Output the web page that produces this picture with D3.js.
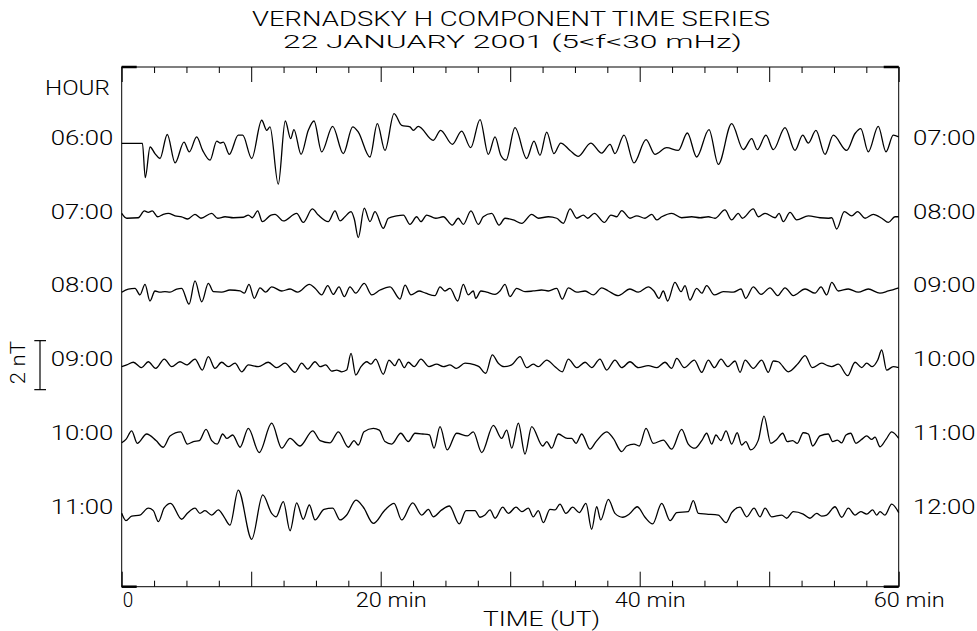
<!DOCTYPE html>
<html>
<head>
<meta charset="utf-8">
<script src="https://cdn.jsdelivr.net/npm/d3@7"></script>
<style>
body { margin: 0; background: #fff; }
text { font-family: Roboto, "DejaVu Sans", sans-serif; font-weight: 300; fill: #000; }
</style>
</head>
<body>
<script>
// hour labels, left and right of each trace
var hoursLeft = ["06:00", "07:00", "08:00", "09:00", "10:00", "11:00"]
var hoursRight = ["07:00", "08:00", "09:00", "10:00", "11:00", "12:00"]

// time axis (minutes)
var majorTicks = [0, 10, 20, 30, 40, 50, 60]
var minorTicks = [2.5, 5, 7.5, 12.5, 15, 17.5, 22.5, 25, 27.5, 32.5, 35, 37.5, 42.5, 45, 47.5, 52.5, 55, 57.5]
var tickLabels = [0, 20, 40, 60]

// filtered H component, [minute, nT] (extrema)
var h06 = [[0,0],[1.6,0],[1.82,-1.40],[2.19,-0.15],[2.57,-0.42],[2.96,-0.62],[3.52,0.36],[4.12,-0.80],[4.81,0.05],[5.22,-0.35],[5.79,0.26],[6.25,-0.29],[6.82,-0.69],[7.34,0.09],[7.59,0.01],[7.85,0.05],[8.31,-0.45],[9.0,0.33],[9.34,0.33],[10.04,-0.62],[10.81,0.94],[11.2,0.53],[11.45,0.67],[12.09,-1.67],[12.63,0.91],[13.05,0.19],[13.3,0.56],[13.85,-0.45],[14.41,0.53],[14.85,0.91],[15.44,-0.35],[16.29,0.69],[17.11,-0.42],[17.84,0.67],[18.27,0.46],[19.17,-0.56],[19.74,0.80],[20.33,-0.29],[21.03,1.21],[21.62,0.73],[22.26,0.67],[22.52,0.53],[22.9,0.69],[24.06,0.12],[24.63,0.53],[25.53,-0.04],[26.25,0.50],[26.95,-0.18],[27.67,0.97],[28.31,-0.45],[28.83,0.26],[29.27,-0.49],[29.68,-0.69],[30.37,0.64],[31.27,-0.62],[31.84,0.09],[32.3,-0.49],[32.82,0.46],[33.38,-0.42],[33.9,0.01],[34.62,-0.29],[35.26,-0.53],[36.22,0.01],[37.07,-0.40],[37.71,-0.04],[38.09,-0.42],[38.79,0.33],[39.56,-0.80],[40.49,0.15],[41.18,-0.45],[42.08,-0.18],[42.98,-0.29],[43.68,0.42],[44.4,-0.56],[45.35,0.56],[46.07,-0.86],[47.1,0.80],[48.0,-0.26],[48.65,0.19],[49.08,-0.26],[49.75,0.33],[50.32,-0.26],[51.22,0.64],[51.99,-0.29],[52.59,0.33],[53.02,0.01],[53.61,0.53],[54.31,-0.45],[54.95,0.33],[55.98,-0.29],[56.63,0.40],[57.07,0.60],[57.65,-0.35],[58.42,0.69],[59.02,-0.35],[59.58,0.33],[60,0.26]]

var h07 = [[0,0.18],[0.39,-0.02],[1.28,0.0],[1.75,0.28],[2.05,0.22],[2.36,0.28],[2.78,0.04],[3.21,0.14],[3.6,0.18],[4.12,0.08],[4.63,0.04],[5.1,-0.05],[5.66,0.14],[6.12,-0.02],[6.95,0.18],[7.41,-0.02],[7.98,0.04],[8.62,0.0],[9.39,0.02],[9.78,0.11],[10.09,0.0],[10.5,0.28],[10.86,-0.16],[11.53,0.11],[11.84,0.14],[12.48,-0.13],[13.51,0.18],[14.02,-0.19],[14.72,0.36],[15.18,0.11],[15.95,-0.16],[16.47,0.28],[16.86,-0.13],[17.24,0.04],[17.71,0.25],[17.96,-0.05],[18.27,-0.81],[18.73,0.39],[19.17,-0.16],[19.56,0.25],[20.2,-0.43],[20.59,-0.02],[21.23,0.08],[21.75,0.11],[22.26,-0.27],[22.78,0.04],[23.11,-0.16],[23.55,0.11],[24.25,-0.02],[24.83,0.04],[25.53,-0.30],[25.99,-0.02],[26.38,-0.27],[26.97,0.28],[27.54,-0.27],[27.92,0.04],[28.57,0.18],[29.14,-0.30],[29.6,-0.02],[30.24,-0.09],[30.89,-0.23],[31.66,0.14],[32.17,-0.02],[32.94,0.04],[33.59,-0.02],[34.1,-0.23],[34.62,0.36],[35.14,-0.02],[35.65,0.11],[35.98,-0.02],[36.5,0.18],[37.27,-0.19],[37.78,0.11],[38.22,0.04],[38.61,0.29],[39.25,-0.02],[39.77,0.08],[40.41,-0.02],[40.93,0.14],[41.31,-0.09],[41.7,0.04],[42.47,0.18],[43.24,0.0],[44.02,0.04],[44.66,0.0],[45.3,0.04],[45.81,-0.02],[46.58,0.32],[47.1,-0.09],[47.61,0.18],[47.92,-0.02],[48.77,0.36],[49.16,0.04],[49.68,0.18],[50.45,0.0],[50.76,0.18],[51.09,-0.16],[51.61,0.22],[52.12,-0.09],[53.02,0.08],[53.92,0.0],[54.56,-0.02],[54.83,0.0],[55.21,-0.46],[55.8,0.25],[56.37,0.08],[56.83,0.25],[57.4,-0.02],[58.04,0.14],[58.69,-0.02],[59.2,-0.19],[59.71,0.04],[60,0.04]]

var h08 = [[0,0.0],[0.51,0.13],[1.03,0.16],[1.41,-0.11],[1.8,0.32],[2.18,-0.36],[2.57,0.05],[2.96,0.0],[3.34,0.02],[3.73,0.0],[4.25,0.13],[4.63,0.16],[5.2,-0.49],[5.66,0.46],[6.18,-0.39],[6.69,0.36],[7.08,0.02],[7.72,0.0],[8.36,0.09],[9.14,0.05],[9.47,-0.04],[9.83,0.32],[10.24,-0.25],[10.68,0.18],[11.12,0.0],[11.58,0.22],[12.36,0.05],[13.0,0.13],[13.59,0.0],[14.49,0.32],[14.93,0.16],[15.44,-0.11],[15.91,0.27],[16.34,-0.09],[16.78,0.22],[17.19,-0.18],[17.63,0.22],[18.07,-0.04],[18.73,0.36],[19.31,-0.11],[19.95,0.09],[20.72,0.22],[21.49,-0.28],[21.88,0.29],[22.34,-0.11],[22.96,0.05],[23.47,-0.04],[24.19,-0.14],[24.58,0.22],[24.96,0.05],[25.35,0.16],[25.95,-0.36],[26.38,0.32],[26.76,-0.11],[27.15,0.05],[27.34,-0.25],[27.74,0.05],[28.18,0.0],[28.83,-0.09],[29.21,0.05],[29.6,0.32],[29.98,-0.18],[30.5,0.16],[31.14,0.02],[31.78,0.05],[32.43,0.09],[32.94,0.05],[33.59,0.16],[34.02,-0.28],[34.49,0.18],[35.14,0.0],[35.78,0.05],[36.42,-0.11],[37.07,0.18],[37.58,0.05],[38.35,-0.14],[39.25,0.13],[39.89,0.0],[40.66,0.22],[41.1,0.05],[41.49,-0.25],[41.82,0.05],[42.16,-0.36],[42.72,0.40],[43.19,0.02],[43.5,0.27],[43.88,-0.32],[44.4,0.16],[44.79,-0.04],[45.17,0.27],[45.76,-0.11],[46.45,0.02],[47.23,0.0],[47.82,0.13],[48.19,-0.25],[48.77,0.22],[49.37,-0.09],[50.06,0.18],[50.66,-0.14],[51.22,0.18],[51.86,-0.14],[52.77,0.13],[53.54,-0.04],[54.0,0.22],[54.44,-0.11],[54.83,0.40],[55.34,0.05],[56.11,0.13],[56.88,0.0],[57.65,0.13],[58.55,-0.04],[59.2,0.05],[60,0.18]]

var h09 = [[0,0.0],[0.39,0.07],[0.9,0.18],[1.54,-0.04],[2.05,0.20],[2.63,-0.07],[3.29,0.31],[3.86,0.0],[4.5,0.20],[5.02,0.07],[5.66,0.31],[6.22,-0.14],[6.69,0.41],[7.2,-0.07],[7.72,0.18],[8.23,0.0],[8.75,0.14],[9.27,-0.21],[9.78,0.07],[10.55,0.0],[11.32,0.18],[11.97,-0.04],[12.61,0.14],[13.38,-0.23],[13.9,0.14],[14.36,-0.10],[14.93,0.20],[15.32,0.0],[15.75,0.07],[16.22,-0.18],[16.6,-0.14],[16.99,-0.21],[17.37,-0.14],[17.71,0.54],[18.07,-0.34],[18.48,0.0],[18.92,0.20],[19.25,0.10],[19.61,0.31],[20.2,-0.31],[20.64,0.27],[21.1,0.04],[21.41,0.31],[21.82,-0.04],[22.13,0.18],[22.59,0.0],[23.11,0.31],[23.73,0.0],[24.32,0.10],[24.83,0.0],[25.35,0.07],[25.86,-0.07],[26.51,0.14],[27.28,0.07],[27.59,0.0],[28.11,-0.27],[28.62,0.48],[29.08,0.14],[29.54,0.0],[30.11,0.07],[30.76,0.41],[31.27,-0.04],[31.78,0.10],[32.17,0.0],[32.82,0.27],[33.46,0.0],[34.02,-0.21],[34.49,0.31],[35.14,-0.04],[35.78,0.18],[36.29,-0.04],[36.93,0.31],[37.45,-0.14],[38.09,0.27],[38.61,-0.04],[39.25,0.20],[39.89,-0.04],[40.66,0.04],[41.31,-0.04],[41.95,0.18],[42.47,-0.07],[42.86,0.34],[43.44,-0.04],[44.22,0.27],[44.79,-0.23],[45.3,0.27],[45.76,-0.04],[46.28,0.31],[46.8,0.0],[47.36,0.23],[47.75,-0.23],[48.14,0.27],[48.77,-0.07],[49.42,0.27],[49.93,-0.23],[50.32,0.23],[50.7,0.20],[51.47,-0.21],[52.25,0.14],[52.77,0.45],[53.33,-0.04],[54.05,0.14],[54.52,0.04],[54.83,0.0],[55.34,0.10],[56.06,-0.37],[56.63,0.18],[57.14,-0.04],[57.53,0.14],[57.96,0.0],[58.38,0.27],[58.69,0.68],[59.07,-0.14],[59.58,0.0],[60,-0.04]]

var h10 = [[0,-0.07],[0.33,0.07],[0.77,0.42],[1.2,-0.09],[1.93,0.29],[2.65,0.02],[3.21,-0.25],[3.73,0.21],[4.56,0.38],[5.07,-0.12],[5.53,-0.02],[6.0,0.02],[6.51,0.48],[6.95,0.02],[7.38,-0.12],[7.8,0.29],[8.11,0.11],[8.57,0.25],[9.14,-0.25],[9.78,0.52],[10.62,-0.47],[11.58,0.73],[12.36,-0.29],[13.0,0.11],[13.77,-0.20],[14.75,0.42],[15.32,0.02],[16.09,-0.07],[16.73,0.38],[17.5,-0.25],[17.94,0.02],[18.27,-0.16],[18.71,0.38],[19.43,0.52],[19.89,0.45],[20.33,-0.02],[20.85,-0.12],[21.55,0.32],[22.13,-0.02],[22.65,0.32],[23.24,0.29],[23.76,0.25],[24.12,-0.29],[24.58,0.59],[25.14,-0.36],[25.86,0.32],[26.69,0.21],[27.15,0.38],[27.8,-0.47],[28.7,0.64],[29.34,0.11],[29.73,0.45],[30.12,-0.29],[30.63,0.73],[31.14,-0.53],[31.66,0.59],[32.51,-0.20],[32.82,-0.02],[33.2,-0.29],[33.71,0.29],[34.41,0.11],[34.75,0.11],[35.08,-0.09],[35.52,0.29],[36.16,-0.33],[36.63,-0.02],[37.45,0.38],[37.96,0.11],[38.61,-0.43],[39.0,-0.20],[39.56,-0.12],[39.97,-0.20],[40.49,0.52],[41.05,-0.09],[41.82,0.04],[42.47,-0.33],[43.24,0.48],[43.75,-0.12],[44.27,-0.29],[44.79,0.02],[45.17,0.32],[45.56,-0.12],[45.89,0.25],[46.26,0.02],[46.67,0.42],[47.1,-0.12],[47.53,0.34],[47.87,-0.16],[48.2,-0.02],[48.57,-0.36],[49.16,0.04],[49.6,1.02],[50.12,-0.09],[50.58,0.07],[51.04,0.32],[51.4,-0.02],[51.81,0.02],[52.17,-0.09],[52.63,0.34],[53.02,0.29],[53.36,-0.20],[53.92,0.21],[54.56,0.29],[54.9,-0.02],[55.26,0.04],[55.6,-0.07],[55.93,0.25],[56.29,0.32],[56.7,-0.09],[57.14,0.07],[57.53,0.21],[57.92,0.07],[58.17,0.16],[58.56,-0.23],[59.02,0.07],[59.46,0.38],[60,0.11]]

var h11 = [[0,0.09],[0.33,-0.21],[0.77,-0.02],[1.41,0.02],[2.05,0.30],[2.44,0.20],[2.83,-0.25],[3.27,0.30],[3.78,0.50],[4.63,-0.15],[5.07,0.09],[5.66,0.30],[6.04,0.09],[6.43,0.20],[6.95,0.02],[7.46,0.23],[7.9,-0.05],[8.36,-0.39],[9.0,1.04],[10.04,-0.97],[10.89,0.84],[11.58,0.09],[11.92,-0.05],[12.48,0.57],[13.0,-0.62],[13.51,0.52],[14.02,-0.15],[14.49,0.43],[14.93,-0.18],[15.62,0.25],[16.29,0.30],[16.86,-0.18],[17.37,0.02],[18.09,0.63],[18.66,0.34],[19.43,-0.32],[20.33,0.23],[21.03,0.50],[21.62,-0.18],[22.47,0.52],[23.17,0.02],[23.68,0.25],[24.06,-0.05],[24.71,0.23],[25.3,0.39],[26.07,-0.34],[26.59,0.20],[27.28,0.20],[27.67,-0.07],[28.05,0.02],[28.44,0.23],[28.83,-0.11],[29.42,0.34],[29.86,0.09],[30.45,0.34],[30.89,0.16],[31.4,0.30],[31.78,-0.05],[32.17,0.20],[32.56,-0.29],[33.07,0.25],[33.46,0.23],[33.84,0.47],[34.3,0.09],[34.83,0.34],[35.33,0.12],[35.85,0.50],[36.29,-0.56],[36.68,0.36],[36.99,-0.18],[37.58,0.66],[38.09,0.09],[38.69,-0.07],[39.2,0.06],[39.81,0.36],[40.41,-0.07],[41.0,-0.34],[41.7,0.50],[42.35,-0.21],[42.86,0.12],[43.75,0.16],[44.14,0.61],[44.53,0.09],[45.17,0.06],[46.07,0.02],[46.67,-0.29],[47.1,0.12],[47.75,0.34],[48.26,-0.05],[48.83,0.30],[49.29,-0.05],[49.68,0.30],[50.19,-0.05],[50.97,0.02],[51.35,-0.11],[51.86,0.16],[52.63,0.06],[53.15,-0.11],[53.66,0.09],[54.05,-0.02],[54.44,0.02],[55.08,0.36],[55.6,-0.07],[56.11,0.30],[56.63,0.02],[57.07,0.16],[57.53,0.06],[57.99,0.23],[58.3,0.02],[58.56,0.16],[58.94,0.02],[59.46,0.47],[60,0.12]]

var traces = [h06, h07, h08, h09, h10, h11]

var w = 977, h = 631;
var plotLeft = 121.7, plotRight = 898.7, plotTop = 67, plotBottom = 586.7;
var pxPerNT = 24.5;

var svg = d3.select("body")
    .append("svg")
    .attr("width", w)
    .attr("height", h);

var xScale = d3.scaleLinear()
    .domain([0, 60])
    .range([plotLeft, plotRight]);

// baseline of each hour trace, and the text baseline of its labels
var rowScale = d3.scaleLinear().domain([0, 5]).range([143.3, 515.55]);
var labelScale = d3.scaleLinear().domain([0, 5]).range([145, 513.5]);

var yFor = function(i) {
    var base = rowScale(i)
    return d3.scaleLinear().domain([-1, 1]).range([base + pxPerNT, base - pxPerNT])
}

// title
svg.append("text")
    .attr("x", 511).attr("y", 26)
    .attr("text-anchor", "middle")
    .attr("font-size", 20)
    .attr("textLength", 518).attr("lengthAdjust", "spacingAndGlyphs")
    .text("VERNADSKY H COMPONENT TIME SERIES");
svg.append("text")
    .attr("x", 512.5).attr("y", 48)
    .attr("text-anchor", "middle")
    .attr("font-size", 19)
    .attr("textLength", 459).attr("lengthAdjust", "spacingAndGlyphs")
    .text("22 JANUARY 2001 (5<f<30 mHz)");

// frame
svg.append("rect")
    .attr("x", plotLeft).attr("y", plotTop)
    .attr("width", plotRight - plotLeft).attr("height", plotBottom - plotTop)
    .attr("fill", "none")
    .attr("stroke", "#000")
    .attr("stroke-width", 1);

// ticks, bottom pointing up, top pointing down
var addTicks = function(axisFn, y, values, len) {
    var g = svg.append("g")
        .attr("transform", "translate(0," + y + ")")
        .call(axisFn(xScale).tickValues(values).tickSizeInner(-len).tickSizeOuter(0).tickFormat(""))
    g.select(".domain").remove()
    g.selectAll("line").attr("stroke", "#000")
}
addTicks(d3.axisBottom, plotBottom, majorTicks, 15)
addTicks(d3.axisBottom, plotBottom, minorTicks, 6)
addTicks(d3.axisTop, plotTop, majorTicks, 15)
addTicks(d3.axisTop, plotTop, minorTicks, 6)

// short heavy end ticks of the vertical axis at the corners
var corners = [[plotLeft, plotTop, 1], [plotLeft, plotBottom, 1], [plotRight, plotTop, -1], [plotRight, plotBottom, -1]]
svg.selectAll(".corner")
    .data(corners)
    .enter()
    .append("line")
    .attr("class", "corner")
    .attr("x1", function(d) { return d[0] })
    .attr("x2", function(d) { return d[0] + d[2] * 15 })
    .attr("y1", function(d) { return d[1] })
    .attr("y2", function(d) { return d[1] })
    .attr("stroke", "#000")
    .attr("stroke-width", 2.5);

// time labels
svg.selectAll(".tlabel")
    .data(tickLabels)
    .enter()
    .append("text")
    .attr("class", "tlabel")
    .attr("x", function(d) { return d == 0 ? xScale(d) + 1 : xScale(d) - 25 })
    .attr("y", 607)
    .attr("font-size", 20)
    .attr("textLength", function(d) { return d == 0 ? 10.5 : 71 })
    .attr("lengthAdjust", "spacingAndGlyphs")
    .text(function(d) { return d == 0 ? "0" : d + " min" });

svg.append("text")
    .attr("x", 483).attr("y", 626)
    .attr("font-size", 21)
    .attr("textLength", 117).attr("lengthAdjust", "spacingAndGlyphs")
    .text("TIME (UT)");

svg.append("text")
    .attr("x", 45).attr("y", 95)
    .attr("font-size", 21)
    .attr("textLength", 65).attr("lengthAdjust", "spacingAndGlyphs")
    .text("HOUR");

svg.selectAll(".hl")
    .data(hoursLeft)
    .enter()
    .append("text")
    .attr("class", "hl")
    .attr("x", 50.7)
    .attr("y", function(d, i) { return labelScale(i) })
    .attr("font-size", 21)
    .attr("textLength", 62.5).attr("lengthAdjust", "spacingAndGlyphs")
    .text(function(d) { return d });

svg.selectAll(".hr")
    .data(hoursRight)
    .enter()
    .append("text")
    .attr("class", "hr")
    .attr("x", 913)
    .attr("y", function(d, i) { return labelScale(i) })
    .attr("font-size", 21)
    .attr("textLength", 62.5).attr("lengthAdjust", "spacingAndGlyphs")
    .text(function(d) { return d });

// traces
traces.forEach(function(series, i) {
    var yScale = yFor(i)
    var line = d3.line()
        .x(function(d) { return xScale(d[0]) })
        .y(function(d) { return yScale(d[1]) })
        .curve(d3.curveMonotoneX)
    svg.append("path")
        .datum(series)
        .attr("d", line)
        .attr("fill", "none")
        .attr("stroke", "#000")
        .attr("stroke-width", 1.3)
        .attr("stroke-linejoin", "round");
})

// 2 nT scale bar next to the 09:00 trace
var barScale = yFor(3)
var bar = svg.append("g").attr("stroke", "#000").attr("stroke-width", 1.2)
bar.append("line").attr("x1", 40).attr("x2", 40).attr("y1", barScale(1) - 1.5).attr("y2", barScale(-1) - 1.5)
bar.selectAll(".cap")
    .data([1, -1])
    .enter()
    .append("line")
    .attr("x1", 34.3).attr("x2", 46)
    .attr("y1", function(d) { return barScale(d) - 1.5 })
    .attr("y2", function(d) { return barScale(d) - 1.5 });
svg.append("text")
    .attr("transform", "translate(25," + (barScale(0) - 4) + ") rotate(-90)")
    .attr("text-anchor", "middle")
    .attr("font-size", 20)
    .attr("textLength", 43).attr("lengthAdjust", "spacingAndGlyphs")
    .text("2 nT");
</script>
</body>
</html>
